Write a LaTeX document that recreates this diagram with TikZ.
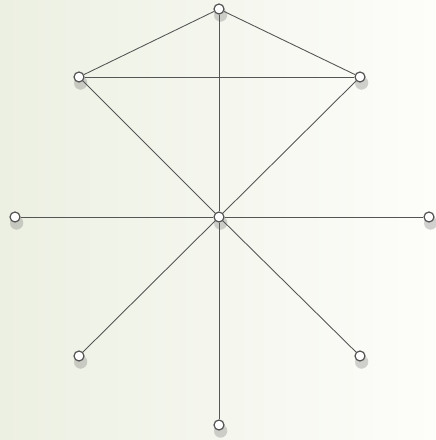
\documentclass[tikz,border=0pt]{standalone}
\usepackage{tikz}
\usetikzlibrary{shadows}

\definecolor{bgleft}{RGB}{236,240,226}
\definecolor{bgright}{RGB}{253,253,250}
\definecolor{edgegray}{RGB}{85,85,85}

\begin{document}
\begin{tikzpicture}[x=0.02cm, y=-0.02cm,
    vert/.style={circle, draw=edgegray, line width=0.7pt, fill=white, inner sep=0pt, minimum size=0.2cm,
        circular drop shadow={shadow xshift=0.5pt, shadow yshift=-2.2pt, shadow scale=1.45, opacity=0.35}},
    edge/.style={edgegray, line width=0.5pt}]
    \shade[left color=bgleft, right color=bgright, shading angle=90] (0,0) rectangle (436,440);
    \useasboundingbox (0,0) rectangle (436,440);
    \node[vert] (top) at (219,9) {};
    \node[vert] (ul) at (79,77) {};
    \node[vert] (ur) at (360,77) {};
    \node[vert] (c) at (219,217) {};
    \node[vert] (l) at (15,217) {};
    \node[vert] (r) at (429,217) {};
    \node[vert] (ll) at (79,356) {};
    \node[vert] (lr) at (360,356) {};
    \node[vert] (bot) at (219,425) {};
    \draw[edge] (top) -- (ul);
    \draw[edge] (top) -- (ur);
    \draw[edge] (top) -- (c);
    \draw[edge] (ul) -- (ur);
    \draw[edge] (ul) -- (c);
    \draw[edge] (ur) -- (c);
    \draw[edge] (c) -- (l);
    \draw[edge] (c) -- (r);
    \draw[edge] (c) -- (ll);
    \draw[edge] (c) -- (lr);
    \draw[edge] (c) -- (bot);
\end{tikzpicture}
\end{document}
